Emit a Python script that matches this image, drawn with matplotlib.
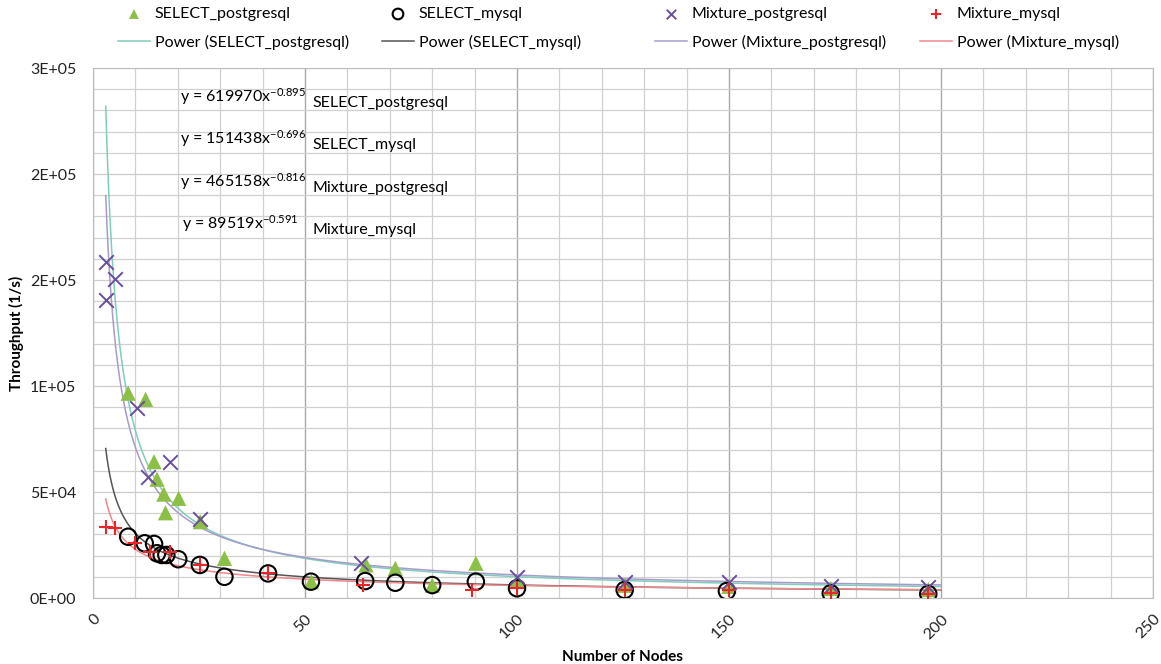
import matplotlib
matplotlib.use("Agg")
import matplotlib.pyplot as plt
import numpy as np
from matplotlib.ticker import MultipleLocator, FixedLocator

FONT = ['Lato', 'DejaVu Sans']
plt.rcParams['font.family'] = FONT
plt.rcParams['mathtext.fontset'] = 'custom'
plt.rcParams['mathtext.rm'] = 'Lato'
plt.rcParams['mathtext.default'] = 'regular'

# ---- data ----
sel_pg_x = [8.3, 12.4, 14.4, 15.1, 16.7, 20.2, 17.1, 25.3, 31, 51.5, 64.4, 71.3, 80, 90.3, 100, 125.4, 150, 174, 197]
sel_pg_y = [96600, 93700, 64300, 56000, 49000, 47000, 40200, 36000, 18700, 7700, 15600, 14000, 6100, 16400, 8000, 6000, 5500, 4500, 4000]

sel_my_x = [8.3, 12.2, 14.4, 15.1, 16.2, 17.3, 20.1, 25.2, 31, 41.3, 51.4, 64.2, 71.3, 80, 90.3, 100, 125.4, 149.5, 174, 197]
sel_my_y = [28900, 25800, 25500, 21100, 20300, 20300, 18300, 15600, 10000, 11600, 7700, 8000, 7200, 6100, 7700, 4600, 3800, 3300, 2200, 1900]

mix_pg_x = [3.06, 5.2, 3.06, 10.3, 18.1, 13.0, 25.2, 63.2, 100, 125.4, 150, 174, 197]
mix_pg_y = [158600, 150300, 140600, 89500, 64300, 57200, 37100, 16700, 9800, 7600, 7500, 5800, 5000]

mix_my_x = [3.06, 5.2, 9.9, 13.4, 18.1, 25.2, 41.3, 63.6, 89.3, 100, 125.4, 150, 174, 197]
mix_my_y = [33600, 33200, 25800, 21800, 21800, 15600, 11600, 6100, 3800, 4700, 3800, 3800, 2500, 1900]

# power fits y = a * x^b
fit_a = [619970, 151438, 465158, 89519]
fit_b = [-0.895, -0.696, -0.816, -0.591]
fit_names = ['SELECT_postgresql', 'SELECT_mysql', 'Mixture_postgresql', 'Mixture_mysql']
fit_x_range = (3, 200)

y_ticks = [0, 50000, 100000, 150000, 200000, 250000]
y_tick_labels = ['0E+00', '5E+04', '1E+05', '2E+05', '2E+05', '3E+05']
x_ticks = [0, 50, 100, 150, 200, 250]

# ---- style ----
c_green = '#8CBF45'
c_purple = '#6A4E9E'
c_red = '#E8262A'
fit_colors = ['#7FCDBB', '#555555', '#A79BCB', '#F0878A']

W, H = 1161, 664
fig = plt.figure(figsize=(W / 100, H / 100), dpi=100)
ax = fig.add_axes([93 / W, 1 - 598 / H, (1153 - 93) / W, (598 - 68) / H])

xf = np.linspace(fit_x_range[0], fit_x_range[1], 600)
fit_handles = []
for a, b, c, n in zip(fit_a, fit_b, fit_colors, fit_names):
    h, = ax.plot(xf, a * xf ** b, color=c, lw=1.1, zorder=2, label=f'Power ({n})')
    fit_handles.append(h)

h1 = ax.scatter(sel_pg_x, sel_pg_y, marker='^', s=120, color=c_green, edgecolors='none', zorder=3, label='SELECT_postgresql')
h2 = ax.scatter(sel_my_x, sel_my_y, marker='o', s=140, facecolors='none', edgecolors='black', linewidths=1.5, zorder=4, label='SELECT_mysql')
h3 = ax.scatter(mix_pg_x, mix_pg_y, marker='x', s=110, color=c_purple, linewidths=1.4, zorder=5, label='Mixture_postgresql')
h4 = ax.scatter(mix_my_x, mix_my_y, marker='+', s=110, color=c_red, linewidths=1.5, zorder=6, label='Mixture_mysql')

ax.set_xlim(0, 250)
ax.set_ylim(0, 250000)
ax.xaxis.set_major_locator(FixedLocator(x_ticks))
ax.xaxis.set_minor_locator(MultipleLocator(10))
ax.yaxis.set_major_locator(FixedLocator(y_ticks))
ax.yaxis.set_minor_locator(MultipleLocator(10000))
ax.set_yticklabels(y_tick_labels)
ax.set_xticklabels([str(t) for t in x_ticks], rotation=45, ha='right', va='top', rotation_mode='anchor')
ax.tick_params(axis='both', which='both', length=0, labelsize=11.5, colors='#222222')
ax.tick_params(axis='x', pad=10)
ax.tick_params(axis='y', pad=12)

ax.grid(which='minor', color='#d0d0d0', lw=0.9)
ax.grid(which='major', axis='x', color='#a8a8a8', lw=1.0)
ax.grid(which='major', axis='y', color='#cccccc', lw=0.9)
ax.set_axisbelow(True)
for s in ax.spines.values():
    s.set_color('#bdbdbd')

ax.set_xlabel('Number of Nodes', fontsize=11, fontweight='bold', labelpad=6)
ax.set_ylabel('Throughput (1/s)', fontsize=11, fontweight='bold', labelpad=4)

# equations
eq_pos_y = [97, 139, 182, 224]
eq_x = [180, 180, 180, 182]
for a, b, n, yy, xx in zip(fit_a, fit_b, fit_names, eq_pos_y, eq_x):
    fig.text(xx / W, 1 - yy / H, f'y = {a}x$^{{{b}}}$', fontsize=11.5, va='center', ha='left')
    fig.text(312 / W, 1 - (yy + 6) / H, n, fontsize=11.5, va='center', ha='left')

# legend: one small legend per column
col_x = [118, 382, 655, 920]
marker_handles = [h1, h2, h3, h4]
for cx, mh, fh in zip(col_x, marker_handles, fit_handles):
    fig.legend(handles=[mh, fh], labels=[mh.get_label(), fh.get_label()],
               loc='upper left', bbox_to_anchor=(cx / W, 1 - 7 / H), frameon=False,
               fontsize=11.5, handlelength=2.0, handletextpad=0.3, labelspacing=0.85,
               borderpad=0, borderaxespad=0, scatterpoints=1, markerscale=0.65)

fig.savefig('out.png', dpi=100)
